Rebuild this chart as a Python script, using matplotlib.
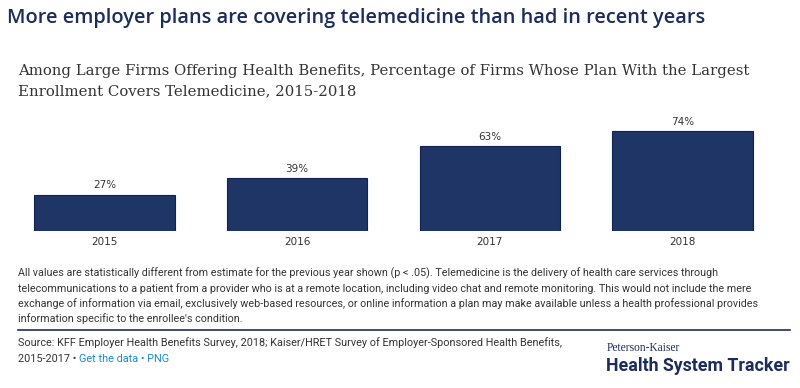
import matplotlib
matplotlib.use("Agg")
import matplotlib.pyplot as plt

years = ["2015", "2016", "2017", "2018"]
pct = [27, 39, 63, 74]

title = "More employer plans are covering telemedicine than had in recent years"
subtitle = ("Among Large Firms Offering Health Benefits, Percentage of Firms Whose Plan With the Largest\n"
            "Enrollment Covers Telemedicine, 2015-2018")
notes = ("All values are statistically different from estimate for the previous year shown (p < .05). Telemedicine is the delivery of health care services through\n"
         "telecommunications to a patient from a provider who is at a remote location, including video chat and remote monitoring. This would not include the mere\n"
         "exchange of information via email, exclusively web-based resources, or online information a plan may make available unless a health professional provides\n"
         "information specific to the enrollee's condition.")
source1 = "Source: KFF Employer Health Benefits Survey, 2018; Kaiser/HRET Survey of Employer-Sponsored Health Benefits,"
source2 = "2015-2017 \u2022 "
links = "Get the data \u2022 PNG"

NAVY = "#1f3566"
TXT = "#333333"
W, H = 800, 388

fig = plt.figure(figsize=(8, 3.88), dpi=100)
fig.patch.set_facecolor("white")


def fx(px):
    return px / W


def fy(py):
    return 1 - py / H


# ─── titres ────────────────────────────────────────────────
fig.text(fx(7), fy(18), title, fontsize=14.4, color="#1b2d5c",
         family="Open Sans", fontweight="semibold", va="center", ha="left")
fig.text(fx(18), fy(81), subtitle, fontsize=10.7, color=TXT,
         family="DejaVu Serif", va="center", ha="left", linespacing=1.55)

# ─── barres ────────────────────────────────────────────────
ax = fig.add_axes([fx(8), fy(231), fx(779) - fx(8), (231 - 110) / H])
x = range(len(years))
ax.bar(x, pct, width=0.73, color=NAVY, edgecolor="#0f2252", linewidth=0.8)
for xi, v in zip(x, pct):
    ax.annotate(f"{v}%", (xi, v), xytext=(0, 3), textcoords="offset points",
                ha="center", va="bottom", fontsize=7.5, color=TXT)
ax.set_xlim(-0.5, 3.5)
ax.set_ylim(0, 89.6)
ax.set_xticks(list(x))
ax.set_xticklabels(years, fontsize=7.5, color=TXT)
ax.tick_params(axis="x", length=0, pad=4)
ax.set_yticks([])
for s in ax.spines.values():
    s.set_visible(False)

# ─── notes & source ────────────────────────────────────────
fig.text(fx(18), fy(295.5), notes, fontsize=7.75, color=TXT, va="center",
         ha="left", linespacing=1.45, family="Roboto")
fig.add_artist(plt.Line2D([fx(18), fx(790)], [fy(330), fy(330)],
                          color="#1b2d5c", linewidth=1.2))
fig.text(fx(18), fy(343), source1, fontsize=7.8, color=TXT, va="center",
         ha="left", family="Roboto")
t2 = fig.text(fx(18), fy(359), source2, fontsize=7.8, color=TXT, va="center",
              ha="left", family="Roboto")
ann = plt.annotate(links, xy=(1, 0), xycoords=t2, va="bottom", ha="left",
                   fontsize=7.8, color="#1a8ad4", family="Roboto",
                   annotation_clip=False)

# ─── logo ──────────────────────────────────────────────────
fig.text(fx(607), fy(348), "Peterson-Kaiser", fontsize=8.3, color="#1b2d5c",
         family="Liberation Serif", va="center", ha="left")
fig.text(fx(606), fy(366), "Health System Tracker", fontsize=12.8,
         color="#1b2d5c", family="Roboto", fontweight="bold",
         va="center", ha="left")

fig.savefig("out.png", dpi=100)
